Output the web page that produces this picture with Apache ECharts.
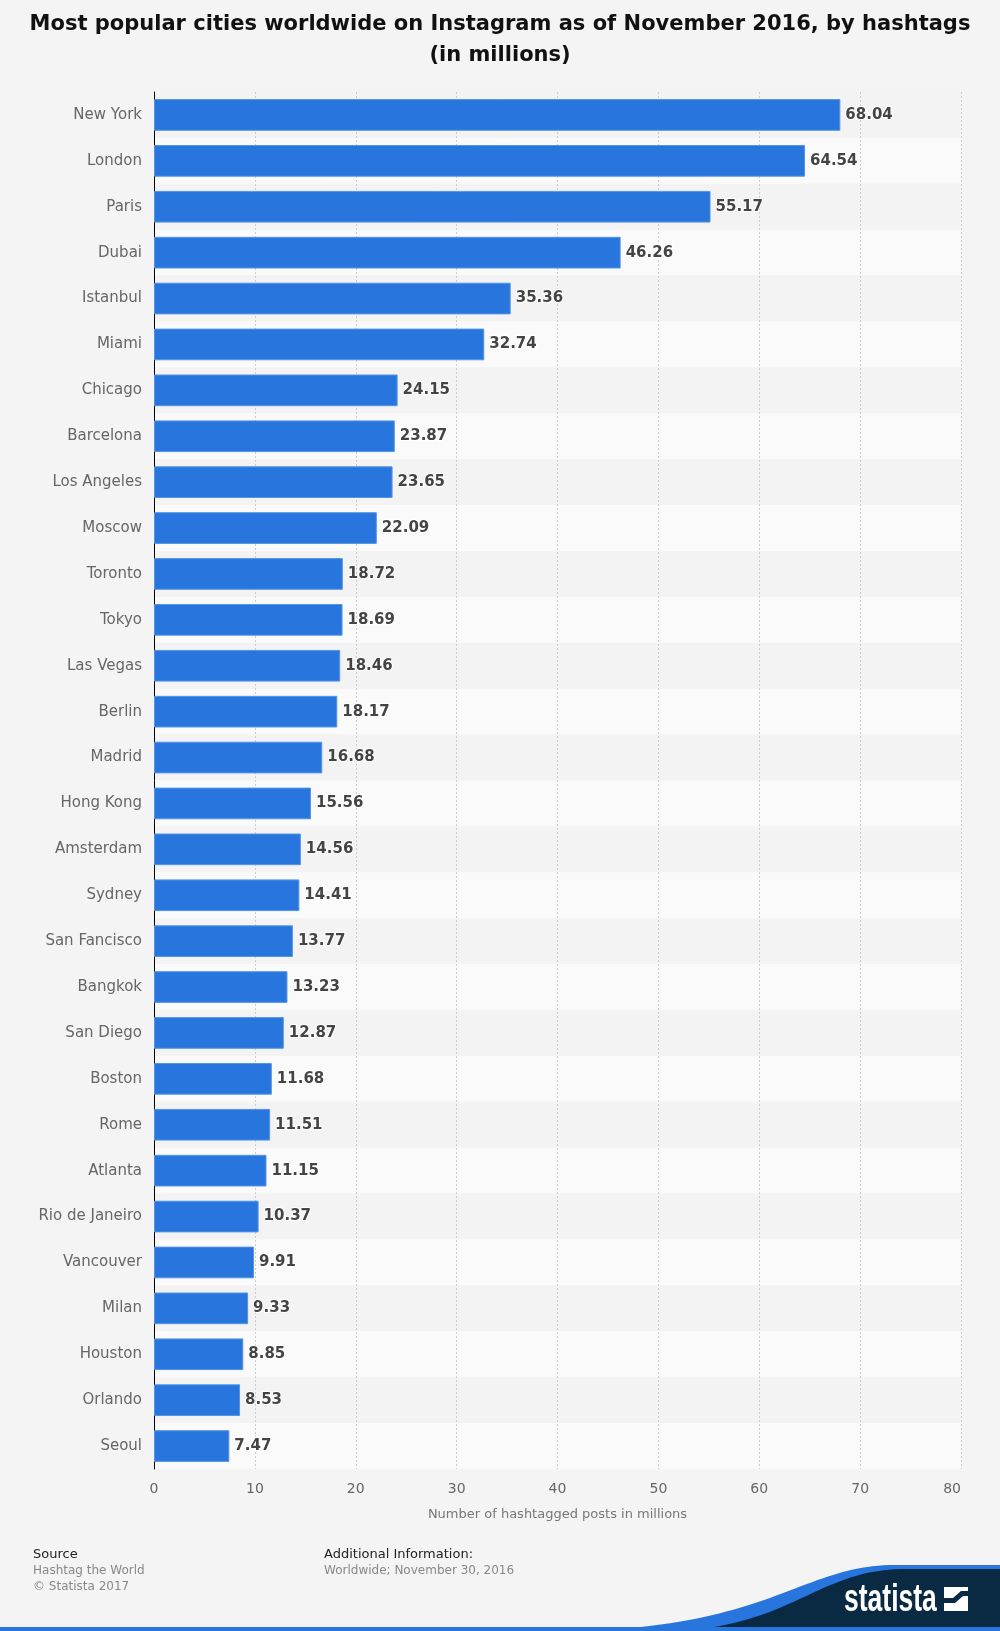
<!DOCTYPE html>
<html>
<head>
<meta charset="utf-8">
<script src="https://cdn.jsdelivr.net/npm/echarts@6/dist/echarts.min.js"></script>
<style>
html,body{margin:0;padding:0;background:#f4f4f4;}
#chart{width:1000px;height:1631px;}
</style>
</head>
<body>
<div id="chart"></div>
<script>
const cities = ['New York','London','Paris','Dubai','Istanbul','Miami','Chicago','Barcelona','Los Angeles','Moscow','Toronto','Tokyo','Las Vegas','Berlin','Madrid','Hong Kong','Amsterdam','Sydney','San Fancisco','Bangkok','San Diego','Boston','Rome','Atlanta','Rio de Janeiro','Vancouver','Milan','Houston','Orlando','Seoul'];
const values = [68.04,64.54,55.17,46.26,35.36,32.74,24.15,23.87,23.65,22.09,18.72,18.69,18.46,18.17,16.68,15.56,14.56,14.41,13.77,13.23,12.87,11.68,11.51,11.15,10.37,9.91,9.33,8.85,8.53,7.47];
const xTicks = [0,10,20,30,40,50,60,70,80];
const titleText = 'Most popular cities worldwide on Instagram as of November 2016, by hashtags\n(in millions)';
const axisName = 'Number of hashtagged posts in millions';

const FONT = 'DejaVu Sans';

// decorative wave for the logo (cubic bezier sampled into a polygon)
function wave(p0, c1, c2, p3, yFlat) {
  const pts = [];
  for (let i = 0; i <= 48; i++) {
    const t = i / 48, u = 1 - t;
    pts.push([
      u*u*u*p0[0] + 3*u*u*t*c1[0] + 3*u*t*t*c2[0] + t*t*t*p3[0],
      u*u*u*p0[1] + 3*u*u*t*c1[1] + 3*u*t*t*c2[1] + t*t*t*p3[1]
    ]);
  }
  pts.push([1000, yFlat], [1000, 1631]);
  return pts;
}

const chart = echarts.init(document.getElementById('chart'), null, {renderer:'canvas'});
const option = {
  backgroundColor: '#f4f4f4',
  textStyle: {fontFamily: FONT},
  title: {
    text: titleText,
    left: 'center',
    top: 4,
    textStyle: {fontFamily: FONT, fontSize: 21, fontWeight: 'bold', color: '#111', lineHeight: 31}
  },
  grid: {left: 154, right: 39, top: 92, bottom: 162, containLabel: false},
  xAxis: {
    type: 'value',
    min: xTicks[0], max: xTicks[xTicks.length-1], interval: 10,
    axisLine: {show: false},
    axisTick: {show: false},
    axisLabel: {color: '#666', fontSize: 14, margin: 13, fontFamily: FONT, alignMaxLabel: 'right'},
    splitLine: {show: true, lineStyle: {type: [2, 2], color: '#cccccc', width: 1}},
    name: axisName,
    nameLocation: 'middle',
    nameGap: 39,
    nameTextStyle: {color: '#777', fontSize: 13, fontFamily: FONT}
  },
  yAxis: {
    type: 'category',
    data: cities,
    inverse: true,
    axisLine: {show: true, lineStyle: {color: '#000', width: 1}},
    axisTick: {show: false},
    axisLabel: {color: '#666', fontSize: 15, margin: 12, fontFamily: FONT},
    splitLine: {show: false},
    splitArea: {show: true, areaStyle: {color: ['#f3f3f3', '#fafafa']}}
  },
  series: [{
    type: 'bar',
    data: values,
    barCategoryGap: '31%',
    itemStyle: {color: '#2876dd', borderColor: '#5394e6', borderWidth: 1},
    label: {
      show: true, position: 'right', distance: 5,
      color: '#444', fontSize: 15, fontWeight: 'bold', fontFamily: FONT,
      textBorderColor: '#fff', textBorderWidth: 2,
      formatter: p => p.value.toFixed(2)
    },
    silent: true
  }],
  animation: false,
  graphic: [
    {type: 'text', left: 33, top: 1548, style: {text: 'Source', font: '13px "DejaVu Sans"', fill: '#222'}},
    {type: 'text', left: 33, top: 1565, style: {text: 'Hashtag the World', font: '12px "DejaVu Sans"', fill: '#888'}},
    {type: 'text', left: 33, top: 1581, style: {text: '\u00a9 Statista 2017', font: '12px "DejaVu Sans"', fill: '#888'}},
    {type: 'text', left: 324, top: 1548, style: {text: 'Additional Information:', font: '13px "DejaVu Sans"', fill: '#222'}},
    {type: 'text', left: 324, top: 1565, style: {text: 'Worldwide; November 30, 2016', font: '12px "DejaVu Sans"', fill: '#888'}},
    {type: 'polygon', shape: {points: wave([560,1631],[770,1630],[800,1565],[895,1565],1565)}, style: {fill: '#2876dd'}, silent: true},
    {type: 'polygon', shape: {points: wave([660,1631],[790,1631],[815,1569],[905,1569],1569)}, style: {fill: '#0a2a44'}, silent: true},
    {type: 'rect', shape: {x: 0, y: 1627, width: 1000, height: 4}, style: {fill: '#2876dd'}, silent: true},
    {type: 'text', x: 844, y: 1600, scaleX: 0.68, style: {text: 'statista', font: 'bold 39px "Liberation Sans"', fill: '#fff', textAlign: 'left', textVerticalAlign: 'middle'}, silent: true},
    {type: 'rect', shape: {x: 944, y: 1587, width: 24, height: 24}, style: {fill: '#fff'}, silent: true},
    {type: 'polygon', shape: {points: [[944,1598],[953,1598],[961,1591],[968,1591],[968,1596],[963,1596],[955,1603],[944,1603]]}, style: {fill: '#0a2a44'}, silent: true}
  ]
};
chart.setOption(option);
</script>
</body>
</html>
